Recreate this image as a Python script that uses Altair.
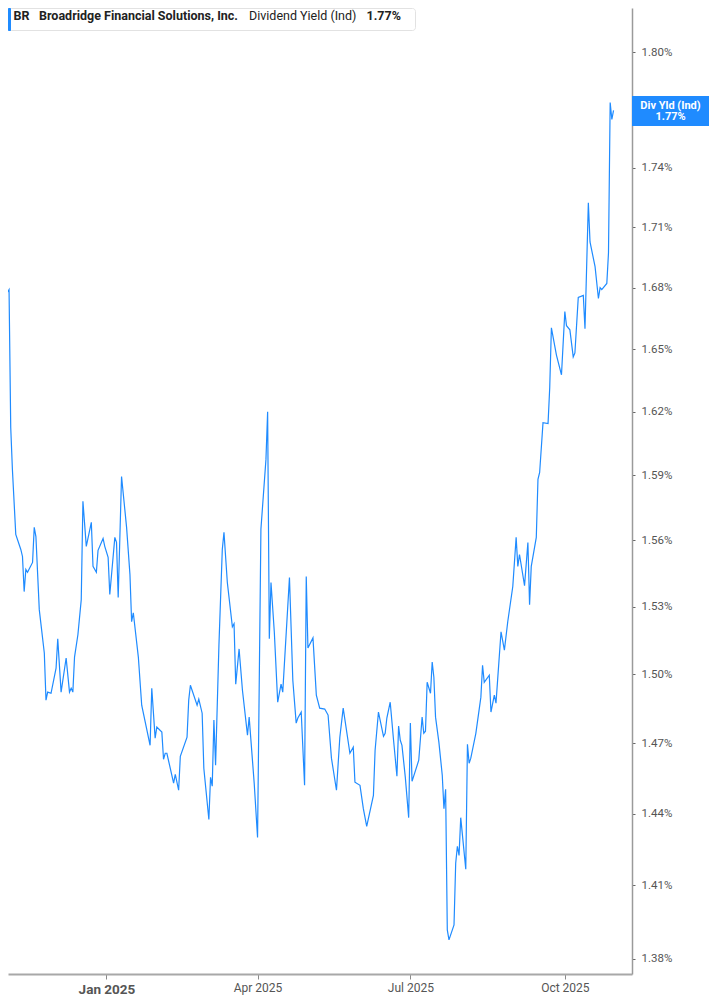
import altair as alt
import pandas as pd

dates = [
    "2024-11-01", "2024-11-04", "2024-11-05", "2024-11-06", "2024-11-08", "2024-11-11", "2024-11-12", "2024-11-13", "2024-11-14", "2024-11-15",
    "2024-11-18", "2024-11-19", "2024-11-20", "2024-11-22", "2024-11-25", "2024-11-26", "2024-11-27", "2024-11-29", "2024-12-02", "2024-12-03",
    "2024-12-05", "2024-12-08", "2024-12-10", "2024-12-11", "2024-12-12", "2024-12-13", "2024-12-15", "2024-12-17", "2024-12-18", "2024-12-20",
    "2024-12-23", "2024-12-24", "2024-12-26", "2024-12-27", "2024-12-30", "2024-12-31", "2025-01-02", "2025-01-03", "2025-01-06", "2025-01-07",
    "2025-01-08", "2025-01-10", "2025-01-13", "2025-01-15", "2025-01-16", "2025-01-17", "2025-01-20", "2025-01-22", "2025-01-27", "2025-01-28",
    "2025-01-30", "2025-01-31", "2025-02-03", "2025-02-04", "2025-02-05", "2025-02-06", "2025-02-10", "2025-02-11", "2025-02-13", "2025-02-14",
    "2025-02-18", "2025-02-19", "2025-02-20", "2025-02-24", "2025-02-25", "2025-02-27", "2025-02-28", "2025-03-03", "2025-03-04", "2025-03-05",
    "2025-03-06", "2025-03-07", "2025-03-09", "2025-03-11", "2025-03-12", "2025-03-14", "2025-03-17", "2025-03-18", "2025-03-19", "2025-03-21",
    "2025-03-23", "2025-03-26", "2025-03-27", "2025-03-30", "2025-04-01", "2025-04-03", "2025-04-06", "2025-04-07", "2025-04-08", "2025-04-09",
    "2025-04-11", "2025-04-13", "2025-04-15", "2025-04-16", "2025-04-20", "2025-04-22", "2025-04-24", "2025-04-25", "2025-04-27", "2025-04-29",
    "2025-04-30", "2025-05-01", "2025-05-04", "2025-05-06", "2025-05-08", "2025-05-11", "2025-05-13", "2025-05-15", "2025-05-18", "2025-05-20",
    "2025-05-22", "2025-05-26", "2025-05-28", "2025-05-29", "2025-06-01", "2025-06-03", "2025-06-05", "2025-06-09", "2025-06-10", "2025-06-12",
    "2025-06-15", "2025-06-16", "2025-06-17", "2025-06-19", "2025-06-21", "2025-06-23", "2025-06-24", "2025-06-25", "2025-06-26", "2025-06-28",
    "2025-06-30", "2025-07-01", "2025-07-02", "2025-07-06", "2025-07-08", "2025-07-09", "2025-07-10", "2025-07-11", "2025-07-13", "2025-07-14",
    "2025-07-15", "2025-07-16", "2025-07-18", "2025-07-20", "2025-07-21", "2025-07-22", "2025-07-23", "2025-07-24", "2025-07-27", "2025-07-28",
    "2025-07-29", "2025-07-30", "2025-07-31", "2025-08-03", "2025-08-04", "2025-08-05", "2025-08-06", "2025-08-09", "2025-08-12", "2025-08-13",
    "2025-08-14", "2025-08-17", "2025-08-18", "2025-08-20", "2025-08-21", "2025-08-24", "2025-08-26", "2025-08-28", "2025-08-31", "2025-09-02",
    "2025-09-03", "2025-09-04", "2025-09-07", "2025-09-09", "2025-09-10", "2025-09-11", "2025-09-14", "2025-09-15", "2025-09-16", "2025-09-18",
    "2025-09-21", "2025-09-22", "2025-09-23", "2025-09-26", "2025-09-29", "2025-10-01", "2025-10-02", "2025-10-04", "2025-10-06", "2025-10-07",
    "2025-10-09", "2025-10-12", "2025-10-13", "2025-10-15", "2025-10-16", "2025-10-19", "2025-10-21", "2025-10-22", "2025-10-23", "2025-10-26",
    "2025-10-27", "2025-10-28", "2025-10-29", "2025-10-30",
]

div_yield = [
    1.675, 1.679, 1.6125, 1.5928, 1.5628, 1.5559, 1.5527, 1.5368, 1.5468, 1.5455,
    1.550, 1.566, 1.5618, 1.5287, 1.5094, 1.4887, 1.4922, 1.4917, 1.5027, 1.5157,
    1.4922, 1.5072, 1.4922, 1.4939, 1.4922, 1.5076, 1.5175, 1.5332, 1.578, 1.5573,
    1.5683, 1.5482, 1.5455, 1.5555, 1.5609, 1.5573, 1.5523, 1.5355, 1.5614, 1.5591,
    1.5341, 1.5895, 1.566, 1.5445, 1.5233, 1.5273, 1.5076, 1.4865, 1.4691, 1.4939,
    1.4722, 1.477, 1.4748, 1.4631, 1.4657, 1.4657, 1.4529, 1.4567, 1.4499, 1.4644,
    1.4726, 1.4887, 1.4952, 1.4865, 1.4891, 1.483, 1.4593, 1.4375, 1.4554, 1.4516,
    1.48, 1.4606, 1.513, 1.5559, 1.5637, 1.5409, 1.521, 1.5224, 1.4957, 1.5112,
    1.493, 1.4735, 1.4813, 1.4529, 1.430, 1.5651, 1.5975, 1.62, 1.5157, 1.5409,
    1.5184, 1.4878, 1.4957, 1.4922, 1.5432, 1.4974, 1.4787, 1.4809, 1.4835, 1.452,
    1.5436, 1.5116, 1.5161, 1.4909, 1.4852, 1.4848, 1.4822, 1.4636, 1.4499, 1.4726,
    1.4852, 1.4657, 1.4683, 1.4533, 1.452, 1.4421, 1.4346, 1.4477, 1.467, 1.4835,
    1.473, 1.4743, 1.4809, 1.4878, 1.4713, 1.4559, 1.4774, 1.4713, 1.4691, 1.4554,
    1.4383, 1.4787, 1.4537, 1.4627, 1.4813, 1.4743, 1.4752, 1.4965, 1.4917, 1.5054,
    1.4987, 1.4813, 1.4704, 1.4563, 1.4421, 1.4503, 1.3918, 1.3877, 1.3938, 1.4192,
    1.4263, 1.4225, 1.4383, 1.4167, 1.4696, 1.4614, 1.4636, 1.4743, 1.49, 1.504,
    1.4965, 1.4996, 1.4835, 1.4909, 1.4874, 1.5188, 1.5107, 1.5233, 1.5391, 1.5614,
    1.5482, 1.5536, 1.5395, 1.5591, 1.5309, 1.5482, 1.5614, 1.5882, 1.5914, 1.6148,
    1.6144, 1.6314, 1.6603, 1.6471, 1.6376, 1.6682, 1.6613, 1.6593, 1.6462, 1.6481,
    1.6751, 1.6761, 1.6598, 1.7222, 1.7026, 1.6903, 1.6746, 1.68, 1.679, 1.682,
    1.6972, 1.7736, 1.7648, 1.7695,
]

y_ticks = [1.38, 1.41, 1.44, 1.47, 1.50, 1.53, 1.56, 1.59, 1.62, 1.65, 1.68, 1.71, 1.74, 1.77, 1.80]
x_tick_months = [1, 4, 7, 10]

ticker = "BR"
company = "Broadridge Financial Solutions, Inc."
metric = "Dividend Yield (Ind)"
last_label = "1.77%"
tag_title = "Div Yld (Ind)"

BLUE = "#1f8bff"
FONT = "Roboto"

df = pd.DataFrame({"date": dates, "yield": div_yield})

W = 624
H = 966

x_enc = alt.X(
    "date:T",
    scale=alt.Scale(
        type="utc",
        domain=[alt.DateTime(year=2024, month=11, date=3, hours=9, utc=True),
                alt.DateTime(year=2025, month=11, date=10, utc=True)],
    ),
    axis=alt.Axis(
        orient="bottom", title=None, grid=False,
        values=[alt.DateTime(year=2025, month=m, date=1, utc=True) for m in x_tick_months],
        labelExpr="utcFormat(datum.value, '%b %Y')",
        domainColor="#a8a8a8", domainWidth=2,
        tickColor="#8a8a8a", tickSize=5, tickWidth=1,
        labelColor="#555555", labelFont=FONT,
        labelFontSize={"condition": {"test": "utcmonth(datum.value) === 0", "value": 13.5}, "value": 12},
        labelFontWeight={"condition": {"test": "utcmonth(datum.value) === 0", "value": "bold"}, "value": "normal"},
        labelPadding=3,
    ),
)

y_enc = alt.Y(
    "yield:Q",
    scale=alt.Scale(type="log", domain=[1.3739, 1.8234], nice=False, zero=False),
    axis=alt.Axis(
        orient="right", title=None, grid=False,
        values=y_ticks,
        labelExpr="abs(datum.value - 1.77) < 0.001 ? '' : format(datum.value, '.2f') + '%'",
        domainColor="#9a9a9a", domainWidth=1.5,
        tickColor="#666666", tickSize=3, tickWidth=1,
        labelColor="#555555", labelFont=FONT, labelFontSize=11.5,
        labelPadding=6,
    ),
)

line = alt.Chart(df).mark_line(color=BLUE, strokeWidth=1.2, clip=True).encode(x=x_enc, y=y_enc)

one = alt.Data(values=[{"k": 1}])


def txt(s, x, y, size=12.5, weight="bold", color="#222222", align="left"):
    return alt.Chart(one).mark_text(
        font=FONT, fontSize=size, fontWeight=weight, color=color, align=align, baseline="middle"
    ).encode(x=alt.value(x), y=alt.value(y), text=alt.value(s))


legend_box = alt.Chart(one).mark_rect(
    fill="white", stroke="#e2e2e2", strokeWidth=1, cornerRadius=3
).encode(x=alt.value(0.5), x2=alt.value(407.5), y=alt.value(0.5), y2=alt.value(22.5))
legend_bar = alt.Chart(one).mark_rect(fill=BLUE, cornerRadius=1).encode(
    x=alt.value(0), x2=alt.value(3), y=alt.value(0), y2=alt.value(23)
)

tag_box = alt.Chart(one).mark_rect(fill=BLUE).encode(
    x=alt.value(624), x2=alt.value(701), y=alt.value(88), y2=alt.value(118)
)

chart = alt.layer(
    line,
    legend_box,
    legend_bar,
    txt(ticker, 5.5, 8),
    txt(company, 31, 8),
    txt(metric, 241, 8, weight="normal"),
    txt(last_label, 358.5, 8),
    tag_box,
    txt(tag_title, 662.5, 97.5, size=11, color="white", align="center"),
    txt(last_label, 662.5, 109, size=11, color="white", align="center"),
).properties(
    width=W, height=H, background="white",
    autosize=alt.AutoSizeParams(type="none"),
    padding={"left": 0, "top": 0, "right": 77, "bottom": 22},
).configure_view(strokeWidth=0)

chart.save("out.html", embed_options={"renderer": "svg", "actions": False})
